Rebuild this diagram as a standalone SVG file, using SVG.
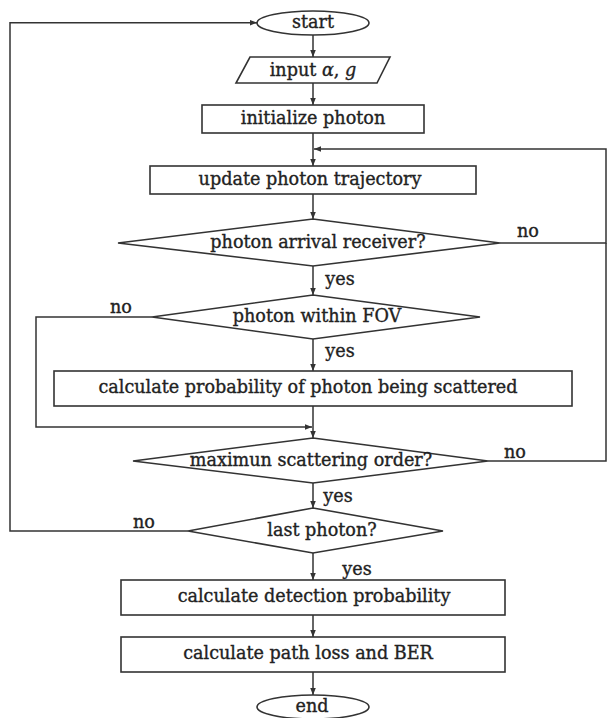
<svg xmlns="http://www.w3.org/2000/svg" width="607" height="718" viewBox="0 0 607 718">
<style>
.s{fill:#fff;stroke:#333;stroke-width:1.6}
.c{fill:none;stroke:#333;stroke-width:1.5}
.t,.l{font-family:"DejaVu Serif","Liberation Serif",serif;font-size:17.6px;fill:#222;stroke:#222;stroke-width:0.35;text-anchor:middle;dominant-baseline:central}
</style>
<defs>
<marker id="a" viewBox="0 0 10 10" refX="10" refY="5" markerWidth="7" markerHeight="7" markerUnits="userSpaceOnUse" orient="auto">
<path d="M0,1 L10,5 L0,9 z" fill="#333"/>
</marker>
</defs>
<rect width="607" height="718" fill="#fff"/>
<g id="connectors">
<path class="c" d="M188,531 H10 V22.7 H257" marker-end="url(#a)"/>
<path class="c" d="M313,35 V57" marker-end="url(#a)"/>
<path class="c" d="M313,83 V105" marker-end="url(#a)"/>
<path class="c" d="M313,133 V166" marker-end="url(#a)"/>
<path class="c" d="M500,243 H606 V149 H314" marker-end="url(#a)"/>
<path class="c" d="M488,461 H606 V243"/>
<path class="c" d="M313,194 V219" marker-end="url(#a)"/>
<path class="c" d="M313,266 V295" marker-end="url(#a)"/>
<path class="c" d="M313,339 V371" marker-end="url(#a)"/>
<path class="c" d="M152,317 H36 V427 H312" marker-end="url(#a)"/>
<path class="c" d="M313,406 V438" marker-end="url(#a)"/>
<path class="c" d="M313,483 V508" marker-end="url(#a)"/>
<path class="c" d="M313,553 V580" marker-end="url(#a)"/>
<path class="c" d="M313,615 V637" marker-end="url(#a)"/>
<path class="c" d="M313,672 V695" marker-end="url(#a)"/>
<text class="l" x="528" y="231">no</text>
<text class="l" x="340" y="279">yes</text>
<text class="l" x="121" y="307">no</text>
<text class="l" x="340" y="351">yes</text>
<text class="l" x="515" y="452">no</text>
<text class="l" x="338" y="496">yes</text>
<text class="l" x="144" y="522">no</text>
<text class="l" x="357" y="569">yes</text>
</g>
<g id="start">
<ellipse class="s" cx="313" cy="23" rx="56" ry="12"/>
<text class="t" x="313" y="22">start</text>
</g>
<g id="input">
<polygon class="s" points="250,57 390,57 377,83 236,83"/>
<text class="t" x="313" y="70">input <tspan font-style="italic">α</tspan>, <tspan font-style="italic">g</tspan></text>
</g>
<g id="init">
<rect class="s" x="202" y="105" width="222" height="28"/>
<text class="t" x="313" y="118">initialize photon</text>
</g>
<g id="update">
<rect class="s" x="150" y="166" width="326" height="28"/>
<text class="t" x="310" y="179">update photon trajectory</text>
</g>
<g id="arrival">
<polygon class="s" points="313,219 500,243 313,266 118,243"/>
<text class="t" x="318" y="242">photon arrival receiver?</text>
</g>
<g id="fov">
<polygon class="s" points="313,295 480,317 313,339 152,317"/>
<text class="t" x="317" y="316">photon within FOV</text>
</g>
<g id="scatter">
<rect class="s" x="54" y="371" width="518" height="35"/>
<text class="t" x="308" y="387">calculate probability of photon being scattered</text>
</g>
<g id="maxorder">
<polygon class="s" points="313,438 488,461 313,483 133,461"/>
<text class="t" x="311" y="460">maximun scattering order?</text>
</g>
<g id="last">
<polygon class="s" points="313,508 443,531 313,553 188,531"/>
<text class="t" x="322" y="530">last photon?</text>
</g>
<g id="detection">
<rect class="s" x="121" y="580" width="384" height="35"/>
<text class="t" x="314" y="596">calculate detection probability</text>
</g>
<g id="pathloss">
<rect class="s" x="121" y="637" width="384" height="35"/>
<text class="t" x="308" y="653">calculate path loss and BER</text>
</g>
<g id="end">
<ellipse class="s" cx="313" cy="707" rx="56" ry="12"/>
<text class="t" x="312" y="706">end</text>
</g>
</svg>
